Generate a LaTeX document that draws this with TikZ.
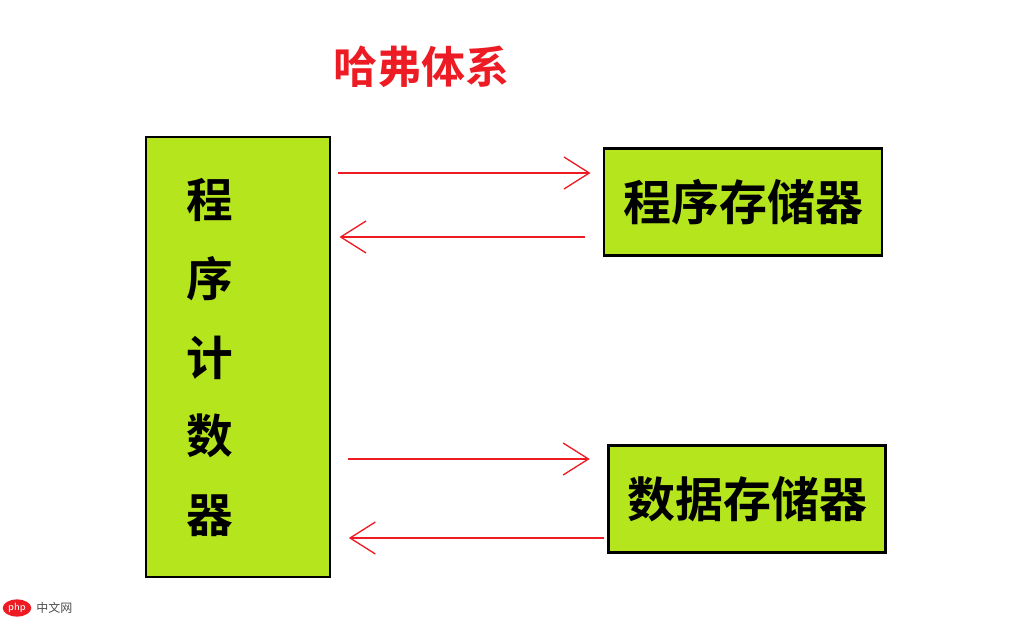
\documentclass[tikz,border=0pt]{standalone}
\usepackage{fontspec}
\newfontfamily\cjk[BoldFont={Noto Sans CJK SC Bold}]{Noto Sans CJK SC}
\usetikzlibrary{arrows.meta,shapes.geometric}
\definecolor{lime}{HTML}{B5E61D}
\definecolor{hred}{HTML}{ED1C24}
\begin{document}
\begin{tikzpicture}[x=0.75pt,y=-0.75pt]
  \tikzstyle{mem}=[draw=black,line width=2.2pt,fill=lime,inner sep=0pt]
  \tikzstyle{big}=[font=\cjk\bfseries\fontsize{36}{40}\selectfont]
  \tikzstyle{link}=[draw=hred,line width=1pt,-{Straight Barb[length=19pt,width=24pt,line width=1pt]}]
  \useasboundingbox (0,0) rectangle (1033,618);

  % boxes
  \node[mem,minimum width=184*0.75pt,minimum height=440*0.75pt] (pc) at (238,357) {};
  \node[mem,minimum width=278*0.75pt,minimum height=107*0.75pt,big] (prog) at (743,202) {程序存储器};
  \node[mem,minimum width=277*0.75pt,minimum height=107*0.75pt,big] (data) at (747,499) {数据存储器};
  \node[big,anchor=north,align=center,font=\cjk\bfseries\fontsize{35}{59}\selectfont] (pct) at (210,174) {程\\序\\计\\数\\器};

  % title
  \node[text=hred,font=\cjk\bfseries\fontsize{33}{36}\selectfont] (title) at (421,67) {哈弗体系};

  % connectors
  \coordinate (a1) at (pc.east |- 0,173);  \coordinate (b1) at (prog.west |- 0,173);
  \coordinate (a2) at (pc.east |- 0,237);  \coordinate (b2) at (prog.west |- 0,237);
  \coordinate (a3) at (pc.east |- 0,459);  \coordinate (b3) at (data.west |- 0,459);
  \coordinate (a4) at (pc.east |- 0,538);  \coordinate (b4) at (data.west |- 0,538);
  \draw[link,shorten <=5pt,shorten >=9pt] (a1) -- (b1);
  \draw[link,shorten <=13.5pt,shorten >=6pt] (b2) -- (a2);
  \draw[link,shorten <=12.5pt,shorten >=13pt] (a3) -- (b3);
  \draw[link,shorten <=2pt,shorten >=13pt] (b4) -- (a4);

  % watermark
  \node[fill=hred,ellipse,inner sep=1pt,text=white,font=\sffamily\fontsize{8}{8}\selectfont] (php) at (17,608) {php};
  \node[anchor=west,text=black!70,font=\cjk\fontsize{9}{9}\selectfont] (cn) at (php.east) {中文网};
\end{tikzpicture}
\end{document}
